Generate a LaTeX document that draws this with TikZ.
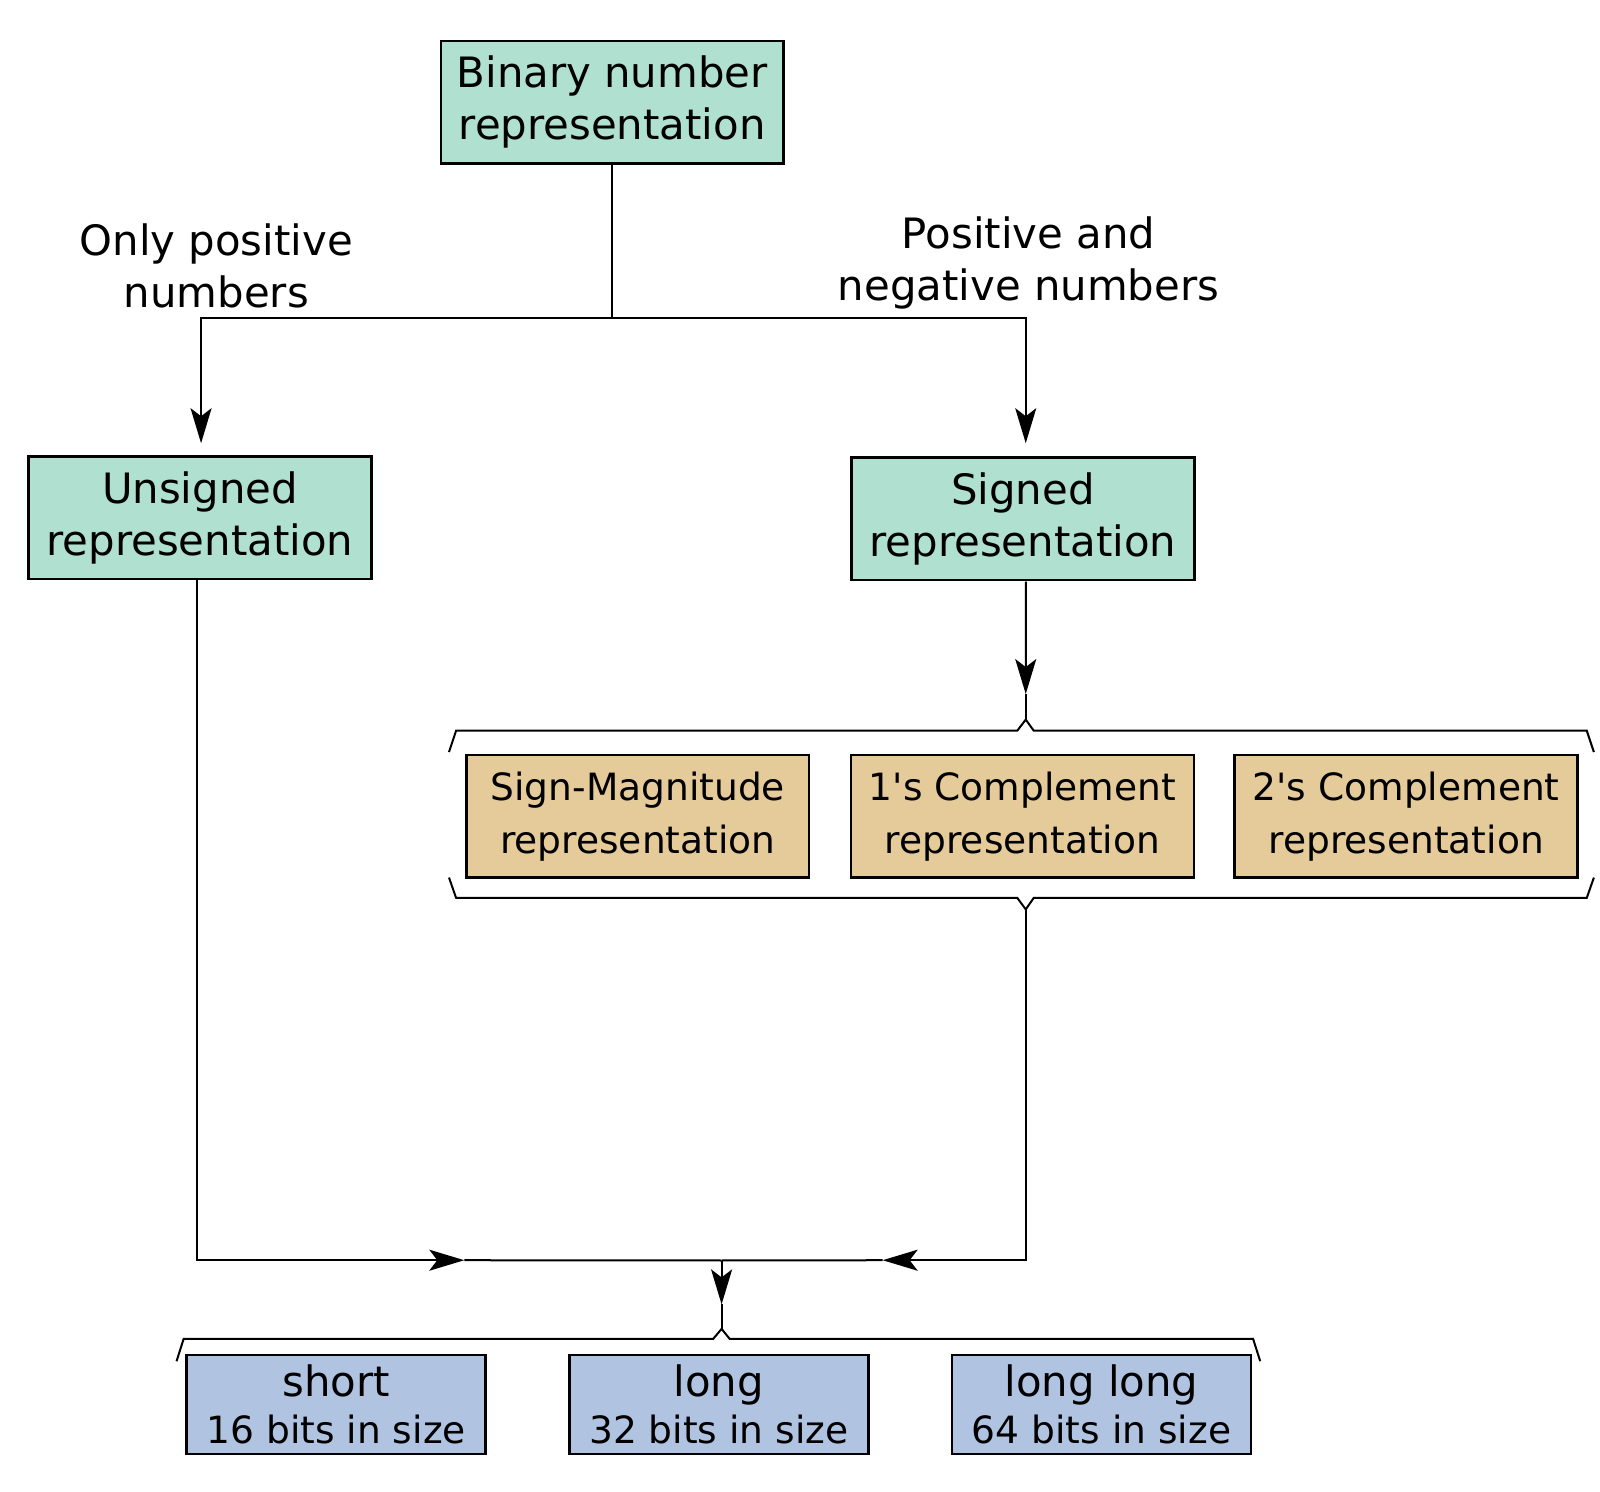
\documentclass[tikz,border=0pt]{standalone}
\usepackage{fontspec}
\setmainfont{DejaVu Sans}
\usetikzlibrary{arrows.meta}
\definecolor{mint}{RGB}{176,224,208}
\definecolor{sand}{RGB}{228,203,153}
\definecolor{sky}{RGB}{176,196,226}
\begin{document}
\begin{tikzpicture}[x=1pt,y=-1pt,scale=1.0204,line width=2pt,
  every node/.style={transform shape},
  box/.style={draw=black,line width=2.5pt,align=center,inner sep=0pt,minimum width=336pt,minimum height=120pt},
  repbox/.style={box,fill=mint,font=\fontsize{41}{51}\selectfont},
  kindbox/.style={box,fill=sand,font=\fontsize{36.8}{52}\selectfont},
  sizebox/.style={box,fill=sky,minimum width=293pt,minimum height=97pt,font=\fontsize{41}{46}\selectfont},
  lbl/.style={align=center,font=\fontsize{41}{51}\selectfont},
  arr/.style={-{Stealth[length=35pt,width=21pt,inset=8pt]}}]
\useasboundingbox (0,0) rectangle (1568,1461.2);

% boxes
\node[repbox] (bin) at (600,100) {Binary number\\representation};
\node[repbox] (uns) at (196,507.5) {Unsigned\\representation};
\node[repbox] (sig) at (1002.5,508.5) {Signed\\representation};
\node[kindbox] (sm) at (625,800) {Sign-Magnitude\\representation};
\node[kindbox] (one) at (1002,800) {1\textquotesingle s Complement\\representation};
\node[kindbox] (two) at (1378,800) {2\textquotesingle s Complement\\representation};
\node[sizebox] (short) at (329.5,1376.5) {short\\\fontsize{36.8}{46}\selectfont 16 bits in size};
\node[sizebox] (long) at (704.5,1376.5) {long\\\fontsize{36.8}{46}\selectfont 32 bits in size};
\node[sizebox] (llong) at (1079.5,1376.5) {long long\\\fontsize{36.8}{46}\selectfont 64 bits in size};

% labels
\node[lbl] (lpos) at (212,261) {Only positive\\numbers};
\node[lbl] (lneg) at (1008,258) {Positive and\\negative numbers};

% points on the lines
\coordinate (split) at (600,312);
\coordinate (topbrace) at (1005,705);
\coordinate (botbrace) at (1005,891);
\coordinate (join) at (707,1235);
\coordinate (lowbrace) at (707,1302);

% braces
\draw (440,737) -- (447,716) -- (997,716) -- (topbrace) -- (1013,716) -- (1555,716) -- (1562,737);
\draw (440,860) -- (447,880) -- (997,880) -- (botbrace) -- (1013,880) -- (1555,880) -- (1562,860);
\draw (173,1334) -- (180,1312) -- (699,1312) -- (lowbrace) -- (715,1312) -- (1228,1312) -- (1235,1334);

% connectors
\draw (bin.south) -- (split);
\draw[arr] (split) -| ([xshift=1pt,yshift=12pt]uns.north);
\draw[arr] (split) -| ([xshift=2.5pt,yshift=13pt]sig.north);
\draw[arr] ([xshift=2.5pt]sig.south) -- ([yshift=25pt]topbrace);
\draw ([yshift=25pt]topbrace) -- (topbrace);
\draw[arr] ([xshift=-3pt]uns.south) |- (455,1235);
\draw (455,1235) -- (join);
\draw[arr] (botbrace) |- (865,1235);
\draw (865,1235) -- (join);
\draw[arr] (join) -- ([yshift=24pt]lowbrace);
\draw ([yshift=24pt]lowbrace) -- (lowbrace);

\end{tikzpicture}
\end{document}
